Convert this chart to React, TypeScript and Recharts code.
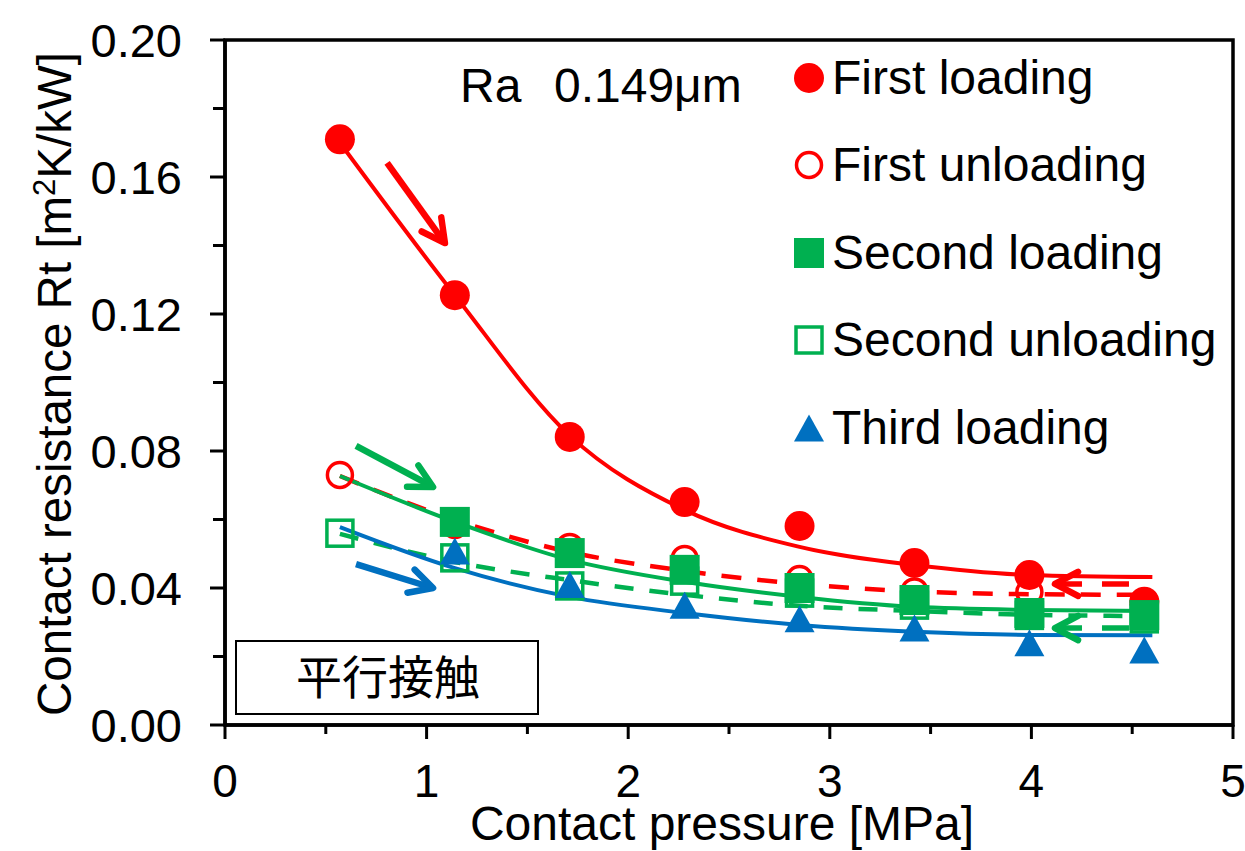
import React from "react";
import {
  ComposedChart,
  Line,
  Scatter,
  XAxis,
  YAxis,
  ReferenceArea,
  ReferenceLine,
} from "recharts";

const RED = "#FF0000";
const GREEN = "#00B050";
const BLUE = "#0070C0";
const FONT = "Arial, 'Liberation Sans', sans-serif";

// measured points
const pressure = [0.57, 1.14, 1.71, 2.28, 2.85, 3.42, 3.99, 4.56];
const firstLoading = [0.171, 0.1255, 0.0841, 0.0651, 0.0581, 0.0473, 0.0438, 0.036];
const firstUnloading = [0.073, 0.0584, 0.052, 0.0485, 0.0426, 0.039, 0.0388, 0.036];
const secondLoading = [null, 0.0593, 0.0502, 0.0453, 0.04, 0.0365, 0.0327, 0.0321];
const secondUnloading = [0.056, 0.0488, 0.0406, 0.042, 0.0385, 0.035, 0.032, 0.031];
const thirdLoading = [null, 0.0508, 0.041, 0.035, 0.031, 0.0283, 0.024, 0.0219];

// fitted curves
const fitX = [0.57, 1.14, 1.71, 2.28, 2.85, 3.42, 3.99, 4.6];
const fitFirstLoading = [0.17, 0.1255, 0.0845, 0.0628, 0.052, 0.0467, 0.0438, 0.0432];
const fitFirstUnloading = [0.0727, 0.0599, 0.0505, 0.045, 0.0412, 0.039, 0.0382, 0.038];
const fitSecondLoading = [0.0727, 0.0593, 0.0482, 0.0418, 0.0374, 0.0345, 0.0336, 0.0333];
const fitSecondUnloading = [0.0558, 0.0476, 0.0423, 0.038, 0.0348, 0.0333, 0.0322, 0.0318];
const fitThirdLoading = [0.0578, 0.0458, 0.0374, 0.0327, 0.0292, 0.0272, 0.0263, 0.0262];

const xTicks = [0, 0.5, 1, 1.5, 2, 2.5, 3, 3.5, 4, 4.5, 5];
const yTicks = [0, 0.02, 0.04, 0.06, 0.08, 0.1, 0.12, 0.14, 0.16, 0.18, 0.2];

// direction arrows (data coordinates)
const arrows = [
  { color: RED, from: [0.804, 0.1641], to: [1.091, 0.1407], dashed: false },
  { color: GREEN, from: [0.65, 0.0815], to: [1.032, 0.0695], dashed: false },
  { color: BLUE, from: [0.65, 0.047], to: [1.032, 0.04], dashed: false },
  { color: RED, from: [4.489, 0.0412], to: [4.117, 0.0412], dashed: true },
  { color: GREEN, from: [4.489, 0.0283], to: [4.117, 0.0283], dashed: true },
];

const toPoints = (ys: (number | null)[], xs: number[] = pressure) =>
  xs.map((x, i) => ({ x, y: ys[i] })).filter((d) => d.y !== null);

const filledCircle = (color: string) => (p: any) => (
  <circle cx={p.cx} cy={p.cy} r={15} fill={color} />
);
const openCircle = (color: string) => (p: any) => (
  <circle cx={p.cx} cy={p.cy} r={12.5} fill="none" stroke={color} strokeWidth={3.5} />
);
const filledSquare = (color: string) => (p: any) => (
  <rect x={p.cx - 15} y={p.cy - 15} width={30} height={30} fill={color} />
);
const openSquare = (color: string) => (p: any) => (
  <rect x={p.cx - 13} y={p.cy - 13} width={26} height={26} fill="none" stroke={color} strokeWidth={3.5} />
);
const triangle = (color: string) => (p: any) => (
  <polygon
    points={`${p.cx},${p.cy - 13.5} ${p.cx + 15},${p.cy + 13.5} ${p.cx - 15},${p.cy + 13.5}`}
    fill={color}
  />
);

const arrowShape = (color: string, dashed: boolean) => (p: any) => {
  const x1 = Number(p.x1), y1 = Number(p.y1), x2 = Number(p.x2), y2 = Number(p.y2);
  const len = Math.hypot(x2 - x1, y2 - y1) || 1;
  const ux = (x2 - x1) / len, uy = (y2 - y1) / len;
  const L = 26, a = Math.PI / 6.5;
  const c = Math.cos(a), s = Math.sin(a);
  const hx1 = x2 - L * (ux * c - uy * s), hy1 = y2 - L * (uy * c + ux * s);
  const hx2 = x2 - L * (ux * c + uy * s), hy2 = y2 - L * (uy * c - ux * s);
  return (
    <g>
      <line
        x1={x2}
        y1={y2}
        x2={x1}
        y2={y1}
        stroke={color}
        strokeWidth={dashed ? 5.5 : 6.5}
        strokeDasharray={dashed ? "27 20" : undefined}
      />
      <polyline
        points={`${hx1},${hy1} ${x2},${y2} ${hx2},${hy2}`}
        fill="none"
        stroke={color}
        strokeWidth={6.5}
        strokeLinecap="round"
        strokeLinejoin="round"
      />
    </g>
  );
};

const XTick = (p: any) => {
  const v = p.payload.value;
  const major = Math.abs(v - Math.round(v)) < 1e-6;
  return (
    <g>
      <line x1={p.x} x2={p.x} y1={p.y} y2={p.y + (major ? 14 : 9)} stroke="#000" strokeWidth={3} />
      {major && (
        <text x={p.x} y={p.y + 72} textAnchor="middle" fontSize={46} fontFamily={FONT} fill="#000">
          {v}
        </text>
      )}
    </g>
  );
};

const YTick = (p: any) => {
  const v = p.payload.value;
  const major = Math.round(v * 100) % 4 === 0;
  return (
    <g>
      <line x1={p.x - (major ? 15 : 12)} x2={p.x} y1={p.y} y2={p.y} stroke="#000" strokeWidth={3} />
      {major && (
        <text x={p.x - 43} y={p.y + 16.5} textAnchor="end" fontSize={47} fontFamily={FONT} fill="#000">
          {v.toFixed(2)}
        </text>
      )}
    </g>
  );
};

const legendItems = [
  { name: "First loading", draw: filledCircle(RED) },
  { name: "First unloading", draw: openCircle(RED) },
  { name: "Second loading", draw: filledSquare(GREEN) },
  { name: "Second unloading", draw: openSquare(GREEN) },
  { name: "Third loading", draw: triangle(BLUE) },
];

const SeriesLegend = () => (
  <div
    style={{
      position: "absolute",
      left: 790,
      top: 34,
      fontFamily: FONT,
      fontSize: 48,
      color: "#000",
      pointerEvents: "none",
    }}
  >
    {legendItems.map((item) => (
      <div key={item.name} style={{ display: "flex", alignItems: "center", height: 87.5 }}>
        <svg width={38} height={34} style={{ flex: "none" }}>
          {item.draw({ cx: 19, cy: 17 })}
        </svg>
        <span style={{ marginLeft: 4, whiteSpace: "nowrap", lineHeight: 1 }}>{item.name}</span>
      </div>
    ))}
  </div>
);

export default function App() {
  return (
    <div style={{ position: "relative", width: 1245, height: 851, background: "#fff", overflow: "hidden" }}>
      <style>{"body{margin:0;background:#fff}"}</style>
      <ComposedChart width={1245} height={851} margin={{ top: 40, right: 12, bottom: 0, left: 0 }}>
        <XAxis
          type="number"
          dataKey="x"
          domain={[0, 5]}
          ticks={xTicks}
          interval={0}
          height={126}
          tickSize={0}
          tickMargin={0}
          tickLine={false}
          tick={<XTick />}
          axisLine={{ stroke: "#000", strokeWidth: 3.5 }}
          allowDataOverflow
        />
        <YAxis
          type="number"
          dataKey="y"
          domain={[0, 0.2]}
          ticks={yTicks}
          interval={0}
          width={225}
          tickSize={0}
          tickMargin={0}
          tickLine={false}
          tick={<YTick />}
          axisLine={{ stroke: "#000", strokeWidth: 3.5 }}
          allowDataOverflow
        />
        <ReferenceArea x1={0} x2={5} y1={0} y2={0.2} fill="none" fillOpacity={0} stroke="#000" strokeWidth={3.5} />

        <Scatter data={toPoints(firstUnloading)} dataKey="y" shape={openCircle(RED)} isAnimationActive={false} />
        <Scatter data={toPoints(secondUnloading)} dataKey="y" shape={openSquare(GREEN)} isAnimationActive={false} />
        <Scatter data={toPoints(firstLoading)} dataKey="y" shape={filledCircle(RED)} isAnimationActive={false} />
        <Scatter data={toPoints(secondLoading)} dataKey="y" shape={filledSquare(GREEN)} isAnimationActive={false} />
        <Scatter data={toPoints(thirdLoading)} dataKey="y" shape={triangle(BLUE)} isAnimationActive={false} />

        <Line data={toPoints(fitFirstLoading, fitX)} dataKey="y" type="monotone" stroke={RED} strokeWidth={4} dot={false} activeDot={false} isAnimationActive={false} />
        <Line data={toPoints(fitFirstUnloading, fitX)} dataKey="y" type="monotone" stroke={RED} strokeWidth={4.5} strokeDasharray="20 16" dot={false} activeDot={false} isAnimationActive={false} />
        <Line data={toPoints(fitSecondLoading, fitX)} dataKey="y" type="monotone" stroke={GREEN} strokeWidth={4} dot={false} activeDot={false} isAnimationActive={false} />
        <Line data={toPoints(fitSecondUnloading, fitX)} dataKey="y" type="monotone" stroke={GREEN} strokeWidth={4.5} strokeDasharray="19 16" dot={false} activeDot={false} isAnimationActive={false} />
        <Line data={toPoints(fitThirdLoading, fitX)} dataKey="y" type="monotone" stroke={BLUE} strokeWidth={4} dot={false} activeDot={false} isAnimationActive={false} />

        {arrows.map((a, i) => (
          <ReferenceLine
            key={i}
            segment={[
              { x: a.from[0], y: a.from[1] },
              { x: a.to[0], y: a.to[1] },
            ]}
            stroke={a.color}
            shape={arrowShape(a.color, a.dashed)}
          />
        ))}
      </ComposedChart>

      <SeriesLegend />

      <svg
        width={1245}
        height={851}
        style={{ position: "absolute", left: 0, top: 0, pointerEvents: "none" }}
        fontFamily={FONT}
      >
        <text x={460} y={102} fontSize={48} fill="#000">Ra</text>
        <text x={554} y={102} fontSize={48} fill="#000">0.149μm</text>
        <text x={71} y={384} fontSize={47.5} fill="#000" textAnchor="middle" transform="rotate(-90 71 384)">
          Contact resistance Rt [m<tspan dy={-16} fontSize={31}>2</tspan>
          <tspan dy={16}>K/kW]</tspan>
        </text>
        <text x={722} y={840} fontSize={48} fill="#000" textAnchor="middle">
          Contact pressure [MPa]
        </text>
        <rect x={236} y={641} width={302} height={73} fill="#fff" stroke="#000" strokeWidth={2} />
        <text x={388} y={694} fontSize={46} fill="#000" textAnchor="middle" fontFamily="'Noto Sans CJK JP', sans-serif">
          平行接触
        </text>
      </svg>
    </div>
  );
}
